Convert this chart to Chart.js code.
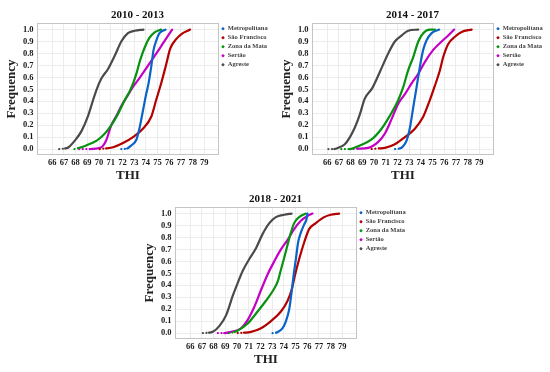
<!DOCTYPE html>
<html lang="en">
<head>
    <meta charset="UTF-8">
    <title>THI ECDF</title>
    <script src="https://cdn.jsdelivr.net/npm/chart.js"></script>
    <style>
        body { margin: 0; background: #fff; }
        canvas { position: absolute; }
    </style>
</head>
<body>
    <canvas id="c1" width="275" height="186" style="left:0px;top:0px"></canvas>
    <canvas id="c2" width="275" height="186" style="left:275px;top:0px"></canvas>
    <canvas id="c3" width="275" height="186" style="left:138px;top:184px"></canvas>

    <script>
        const regions = ['Metropolitana', 'São Francisco', 'Zona da Mata', 'Sertão', 'Agreste'];
        const periods = ['2010 - 2013', '2014 - 2017', '2018 - 2021'];
        const xTicks = [66, 67, 68, 69, 70, 71, 72, 73, 74, 75, 76, 77, 78, 79];
        const yTicks = [0, 0.1, 0.2, 0.3, 0.4, 0.5, 0.6, 0.7, 0.8, 0.9, 1.0];

        // [THI, frequency]
        const metro1013 = [[71.9,0],[72.4,0.005],[72.75,0.03],[73.2,0.08],[73.47,0.18],[73.75,0.32],[74.03,0.46],[74.23,0.55],[74.46,0.69],[74.66,0.83],[74.9,0.91],[75.17,0.97],[75.68,1]];
        const sf1013 = [[70.06,0],[70.6,0.005],[71.2,0.015],[72.05,0.05],[72.9,0.1],[73.75,0.17],[74.46,0.27],[74.88,0.41],[75.31,0.55],[75.74,0.71],[76.08,0.84],[76.59,0.92],[77.16,0.97],[77.58,0.99],[77.78,1]];
        const mata1013 = [[67.9,0],[68.3,0.01],[68.9,0.03],[69.8,0.07],[70.5,0.13],[71.05,0.2],[71.6,0.29],[72.2,0.41],[72.6,0.48],[72.95,0.56],[73.25,0.65],[73.5,0.74],[73.9,0.85],[74.3,0.93],[74.8,0.98],[75.3,1]];
        const sertao1013 = [[68.3,0],[69.2,0],[70.1,0.01],[70.6,0.07],[71.05,0.2],[71.5,0.28],[71.9,0.36],[72.4,0.44],[72.9,0.52],[73.5,0.6],[74.2,0.7],[74.9,0.8],[75.5,0.89],[75.9,0.95],[76.25,1]];
        const agreste1013 = [[66.6,0],[67.1,0.005],[67.4,0.015],[67.93,0.07],[68.5,0.15],[69.07,0.28],[69.49,0.41],[69.8,0.5],[70.2,0.59],[70.77,0.67],[71.34,0.78],[71.9,0.9],[72.47,0.97],[73.04,0.99],[73.8,1]];

        const metro1417 = [[71.8,0],[72.2,0.005],[72.45,0.02],[72.78,0.07],[73.07,0.18],[73.35,0.35],[73.64,0.52],[73.92,0.69],[74.2,0.83],[74.49,0.91],[74.92,0.97],[75.57,1]];
        const sf1417 = [[69.8,0],[70.4,0.005],[70.93,0.01],[71.78,0.04],[72.64,0.1],[73.49,0.17],[74.2,0.27],[74.77,0.41],[75.2,0.53],[75.63,0.66],[75.91,0.77],[76.34,0.88],[76.91,0.94],[77.48,0.98],[78.34,1]];
        const mata1417 = [[67.2,0],[67.94,0],[68.79,0.03],[69.79,0.08],[70.64,0.17],[71.36,0.28],[72.07,0.41],[72.5,0.52],[72.92,0.66],[73.35,0.77],[73.78,0.9],[74.2,0.97],[74.77,1],[75.2,1]];
        const sertao1417 = [[67.94,0],[68.6,0.003],[69.5,0.01],[70.36,0.06],[70.93,0.13],[71.5,0.25],[72.07,0.38],[72.64,0.46],[73.21,0.55],[73.78,0.63],[74.35,0.73],[75.06,0.83],[75.77,0.9],[76.34,0.95],[76.85,1]];
        const agreste1417 = [[66.1,0],[66.6,0],[66.94,0.01],[67.5,0.04],[67.94,0.1],[68.36,0.18],[68.79,0.29],[69.2,0.42],[69.85,0.51],[70.2,0.58],[70.7,0.69],[71.21,0.8],[71.78,0.9],[72.35,0.95],[72.92,0.99],[73.78,1]];

        const metro1821 = [[73.04,0],[73.35,0.003],[73.5,0.01],[73.89,0.04],[74.18,0.1],[74.46,0.2],[74.66,0.34],[74.83,0.48],[75.03,0.62],[75.22,0.76],[75.45,0.84],[75.74,0.91],[75.93,0.95],[76.02,1]];
        const sf1821 = [[70.06,0],[70.6,0.003],[71.19,0.01],[72.05,0.04],[72.9,0.1],[73.75,0.18],[74.32,0.27],[74.66,0.36],[74.94,0.48],[75.31,0.62],[75.74,0.76],[76.16,0.87],[76.73,0.92],[77.44,0.97],[78.0,0.99],[78.72,1]];
        const mata1821 = [[69.3,0],[69.8,0.01],[70.06,0.02],[70.91,0.08],[71.76,0.18],[72.47,0.27],[73.04,0.35],[73.47,0.43],[73.75,0.53],[74.03,0.63],[74.32,0.74],[74.6,0.84],[74.88,0.92],[75.31,0.97],[75.88,1]];
        const sertao1821 = [[68.36,0],[68.9,0],[69.5,0.01],[70.34,0.04],[70.91,0.11],[71.48,0.22],[72.05,0.36],[72.61,0.49],[73.18,0.6],[73.75,0.7],[74.32,0.78],[74.88,0.87],[75.45,0.94],[76.02,0.98],[76.45,1]];
        const agreste1821 = [[67.08,0],[67.6,0.003],[67.93,0.01],[68.5,0.06],[69.07,0.15],[69.63,0.31],[70.06,0.42],[70.48,0.52],[71.05,0.62],[71.62,0.71],[72.19,0.83],[72.76,0.92],[73.32,0.97],[74.03,0.99],[74.66,1]];

        const colors = ['#0a63c9', '#b30000', '#07920f', '#c400c4', '#4a4a4a'];
        const SERIF = "'Liberation Serif', 'Times New Roman', serif";

        // fixed legend width + grey frame around the plot
        const frame = {
            id: 'frame',
            beforeLayout(chart) {
                const lg = chart.legend;
                if (lg && !lg._fixed) {
                    const fit = lg.fit;
                    lg.fit = function () { fit.call(this); this.width = 56; };
                    lg._fixed = true;
                }
            },
            afterDraw(chart) {
                const a = chart.chartArea, ctx = chart.ctx;
                ctx.save();
                ctx.strokeStyle = '#c4c4c4';
                ctx.lineWidth = 1;
                ctx.strokeRect(a.left + 0.5, a.top + 0.5, a.right - a.left - 1, a.bottom - a.top - 1);
                ctx.restore();
            }
        };

        function makeChart(id, title, series) {
            new Chart(document.getElementById(id), {
                type: 'line',
                data: {
                    datasets: series.map((s, i) => ({
                        label: regions[i],
                        data: s,
                        borderColor: colors[i],
                        backgroundColor: colors[i],
                        borderWidth: 2.2,
                        borderCapStyle: 'round',
                        pointRadius: 0,
                        pointHoverRadius: 0,
                        pointBorderWidth: 1,
                        cubicInterpolationMode: 'monotone',
                        segment: {
                            borderDash: c => c.p0DataIndex === 0 ? [0.1, 3.5] : undefined
                        }
                    }))
                },
                options: {
                    responsive: false,
                    animation: false,
                    layout: { padding: 0 },
                    plugins: {
                        title: {
                            display: true,
                            text: title,
                            color: '#111',
                            font: { family: SERIF, size: 11, weight: 'bold' },
                            padding: { top: 8.4, bottom: 1.4 }
                        },
                        legend: {
                            position: 'right',
                            align: 'start',
                            fullSize: false,
                            labels: {
                                usePointStyle: true,
                                boxWidth: 3,
                                boxHeight: 1.5,
                                padding: 2.5,
                                color: '#444',
                                font: { family: SERIF, size: 6.5, weight: 'bold' }
                            }
                        },
                        tooltip: { enabled: false }
                    },
                    scales: {
                        x: {
                            type: 'linear',
                            min: 64.7,
                            max: 80.25,
                            afterBuildTicks: s => { s.ticks = xTicks.map(v => ({ value: v })); },
                            afterFit: s => { s.height = 31; },
                            grid: { color: '#ececec', drawTicks: false },
                            border: { display: false },
                            ticks: {
                                padding: 3,
                                autoSkip: false,
                                maxRotation: 0,
                                minRotation: 0,
                                color: '#1a1a1a',
                                font: { family: SERIF, size: 8.5, weight: 'bold' },
                                callback: v => String(v)
                            },
                            title: {
                                display: true,
                                text: 'THI',
                                color: '#222',
                                font: { family: SERIF, size: 13, weight: 'bold' },
                                padding: { top: 0, bottom: 2.2 }
                            }
                        },
                        y: {
                            min: -0.05,
                            max: 1.055,
                            afterBuildTicks: s => { s.ticks = yTicks.map(v => ({ value: v })); },
                            afterFit: s => { s.width = 37; },
                            grid: { color: '#ececec', drawTicks: false },
                            border: { display: false },
                            ticks: {
                                padding: 3.5,
                                color: '#1a1a1a',
                                font: { family: SERIF, size: 8.5, weight: 'bold' },
                                callback: v => v.toFixed(1)
                            },
                            title: {
                                display: true,
                                text: 'Frequency',
                                color: '#222',
                                font: { family: SERIF, size: 13, weight: 'bold' },
                                padding: { top: 4.2, bottom: 0 }
                            }
                        }
                    }
                },
                plugins: [frame]
            });
        }

        makeChart('c1', periods[0], [metro1013, sf1013, mata1013, sertao1013, agreste1013]);
        makeChart('c2', periods[1], [metro1417, sf1417, mata1417, sertao1417, agreste1417]);
        makeChart('c3', periods[2], [metro1821, sf1821, mata1821, sertao1821, agreste1821]);
    </script>
</body>
</html>
